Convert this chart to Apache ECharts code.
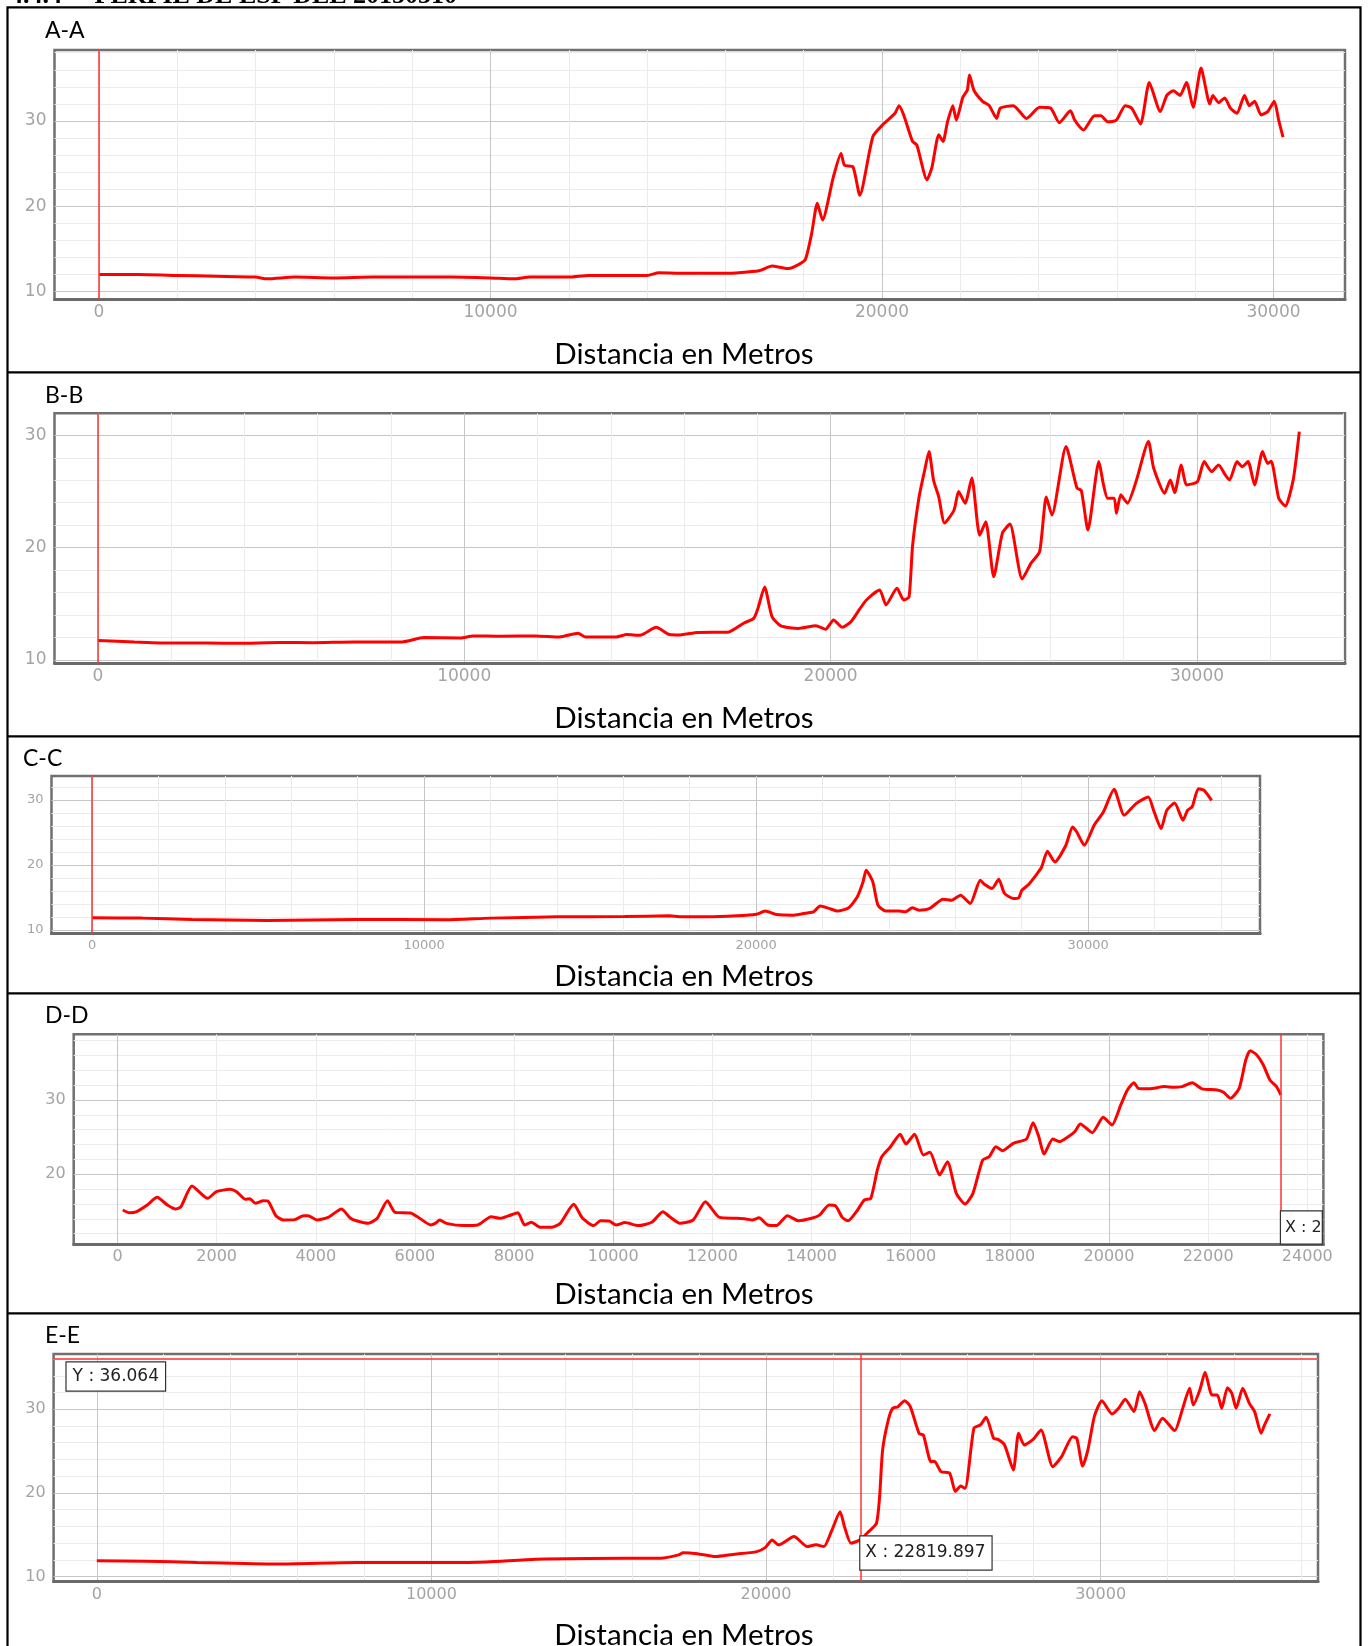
<!DOCTYPE html>
<html>
<head>
<meta charset="utf-8">
<title>Perfiles</title>
<script src="https://cdn.jsdelivr.net/npm/echarts@6/dist/echarts.min.js"></script>
<style>
html, body { margin: 0; padding: 0; background: #fff; }
#perfiles { width: 1368px; height: 1646px; }
</style>
</head>
<body>
<div id="perfiles"></div>
<script>
// perfiles: [distancia en metros, valor]
var perfilA = [[0,12.0],[1000,12.0],[2000,11.9],[3000,11.8],[4000,11.7],[4300,11.5],[5000,11.7],[6000,11.6],[7000,11.7],[8000,11.7],[9000,11.7],[10000,11.6],[10600,11.5],[11000,11.7],[12000,11.7],[12500,11.9],[14000,11.9],[14300,12.2],[14840,12.15],[15964,12.15],[16858,12.45],[17190,13.0],[17586,12.7],[17752,12.9],[18033,13.7],[18202,16.8],[18347,20.35],[18480,18.4],[18761,23.5],[18953,26.2],[19042,24.8],[19260,24.6],[19432,21.3],[19770,28.2],[20050,29.7],[20332,30.9],[20434,31.8],[20554,30.7],[20779,27.6],[20888,27.2],[21149,23.1],[21277,24.6],[21450,28.4],[21558,27.6],[21673,29.9],[21808,31.8],[21898,30.1],[22066,32.8],[22178,33.6],[22234,35.4],[22347,33.6],[22569,32.3],[22738,31.8],[22929,30.3],[23019,31.5],[23354,31.8],[23690,30.3],[24025,31.6],[24306,31.5],[24531,29.8],[24812,31.2],[24922,30.1],[25146,28.95],[25427,30.6],[25594,30.6],[25762,29.9],[25987,30.1],[26211,31.8],[26379,31.5],[26603,29.65],[26827,34.5],[27108,31.1],[27275,33.0],[27443,33.55],[27611,33.0],[27779,34.5],[27947,31.6],[28148,36.2],[28372,32.0],[28451,33.0],[28597,32.15],[28753,32.7],[28899,31.5],[29067,30.9],[29258,33.0],[29382,31.8],[29517,32.3],[29684,30.7],[29852,31.1],[30020,32.3],[30132,30.1],[30243,28.1]];

var perfilB = [[0,11.72],[1000,11.6],[2000,11.5],[3000,11.5],[3800,11.48],[5000,11.55],[5850,11.54],[7000,11.6],[8300,11.6],[8900,11.99],[9900,11.95],[10240,12.14],[11000,12.1],[11960,12.14],[12600,12.05],[13110,12.38],[13300,12.05],[14150,12.05],[14440,12.26],[14800,12.2],[15240,12.9],[15600,12.27],[15890,12.23],[16367,12.44],[17200,12.47],[17625,13.27],[17901,13.7],[18018,14.6],[18198,16.5],[18400,13.86],[18643,13.03],[19121,12.8],[19600,13.05],[19864,12.73],[20080,13.56],[20320,12.9],[20557,13.41],[20797,14.54],[20977,15.34],[21337,16.23],[21512,14.9],[21812,16.38],[21995,15.34],[22140,15.6],[22235,20.1],[22414,24.5],[22568,26.9],[22686,28.55],[22809,26.0],[22953,24.5],[23110,22.2],[23370,23.35],[23493,25.0],[23671,23.95],[23853,26.2],[24068,21.1],[24235,22.3],[24451,17.4],[24690,21.3],[24893,22.1],[25227,17.2],[25467,18.6],[25705,19.64],[25886,24.5],[26040,22.9],[26425,29.0],[26723,25.3],[26842,25.1],[27022,21.58],[27322,27.66],[27440,25.73],[27560,24.4],[27740,24.4],[27800,23.06],[27920,24.7],[28100,23.95],[28338,25.9],[28674,29.44],[28818,27.07],[29116,24.84],[29272,26.03],[29391,24.9],[29571,27.36],[29716,25.58],[30014,25.88],[30194,27.66],[30398,26.77],[30590,27.36],[30770,26.47],[30890,26.03],[31092,27.66],[31236,27.21],[31392,27.66],[31572,25.58],[31788,28.55],[31930,27.5],[32025,27.7],[32230,24.4],[32410,23.7],[32625,26.03],[32792,30.33]];

var perfilC = [[0,11.85],[1500,11.8],[3000,11.6],[5280,11.45],[7960,11.6],[10650,11.55],[12000,11.8],[14030,12.0],[16040,12.05],[17380,12.15],[17696,12.0],[18490,12.0],[19416,12.15],[20012,12.4],[20274,12.88],[20606,12.36],[21133,12.26],[21531,12.6],[21730,12.77],[21929,13.65],[22191,13.3],[22456,12.88],[22788,13.4],[23050,15.1],[23222,17.4],[23315,19.18],[23514,17.4],[23670,13.8],[23908,12.88],[24306,12.9],[24505,12.77],[24704,13.4],[24900,13.03],[25232,13.3],[25630,14.72],[25892,14.57],[26157,15.34],[26450,14.06],[26751,17.65],[26884,16.98],[27110,16.37],[27309,17.8],[27481,15.6],[27743,14.83],[27903,14.9],[28008,16.1],[28207,16.98],[28472,18.7],[28602,19.7],[28774,22.1],[28999,20.46],[29331,23.03],[29530,25.85],[29659,25.08],[29885,23.03],[30189,26.2],[30451,28.06],[30783,31.65],[31088,27.65],[31444,29.45],[31814,30.46],[31974,28.4],[32198,25.6],[32369,28.4],[32607,29.54],[32858,26.88],[32993,28.4],[33138,29.0],[33321,31.75],[33494,31.5],[33720,29.95]];

var perfilD = [[107,15.2],[242,14.83],[377,14.95],[601,15.87],[799,16.9],[1007,15.87],[1168,15.33],[1277,15.6],[1503,18.43],[1818,16.77],[1997,17.66],[2267,17.98],[2402,17.66],[2582,16.64],[2673,16.7],[2781,16.1],[2943,16.45],[3034,16.4],[3195,14.43],[3348,13.85],[3572,13.9],[3754,14.43],[3843,14.43],[4024,13.85],[4249,14.2],[4519,15.33],[4699,14.08],[4834,13.71],[5059,13.4],[5239,14.08],[5446,16.45],[5600,14.88],[5915,14.8],[6094,14.08],[6320,13.18],[6410,13.4],[6500,13.85],[6635,13.4],[6995,13.1],[7266,13.18],[7536,14.3],[7716,14.08],[7895,14.43],[8077,14.83],[8212,13.18],[8347,13.54],[8527,12.87],[8751,12.87],[8932,13.4],[9202,15.96],[9382,14.08],[9608,13.1],[9742,13.75],[9923,13.7],[10058,13.18],[10237,13.5],[10507,13.1],[10778,13.54],[11002,14.97],[11137,14.3],[11346,13.4],[11612,13.85],[11859,16.31],[12143,14.2],[12496,14.08],[12674,14.0],[12807,13.85],[12940,14.14],[13116,13.18],[13293,13.1],[13515,14.43],[13735,13.75],[14001,14.08],[14160,14.5],[14354,15.87],[14487,15.73],[14620,14.2],[14735,13.75],[14929,15.2],[15062,16.54],[15195,16.77],[15328,20.58],[15417,22.37],[15593,23.7],[15788,25.4],[15903,24.08],[16079,25.4],[16256,22.6],[16389,22.96],[16583,19.9],[16742,21.7],[16920,17.44],[17097,16.0],[17256,17.44],[17451,21.92],[17584,22.37],[17717,23.7],[17850,23.18],[18070,24.17],[18336,24.75],[18469,26.95],[18584,25.06],[18689,22.73],[18866,24.75],[19000,24.4],[19177,25.06],[19308,25.73],[19423,26.77],[19663,25.6],[19883,27.67],[20061,26.63],[20238,29.33],[20371,31.35],[20503,32.33],[20591,31.57],[20813,31.5],[21121,31.8],[21299,31.7],[21476,31.8],[21680,32.33],[21874,31.5],[22185,31.35],[22318,31.0],[22449,30.23],[22626,31.57],[22759,35.38],[22848,36.64],[22981,36.06],[23113,34.7],[23246,32.7],[23379,31.8],[23468,30.67]];

var perfilE = [[0,11.91],[1500,11.85],[3000,11.7],[5380,11.52],[7780,11.7],[10440,11.68],[11650,11.75],[13120,12.08],[15790,12.2],[16850,12.2],[17390,12.6],[17520,12.87],[17953,12.75],[18480,12.4],[19003,12.65],[19725,12.99],[19985,13.5],[20182,14.38],[20379,13.8],[20837,14.8],[21231,13.6],[21494,13.8],[21731,13.6],[21952,15.38],[22215,17.77],[22346,15.97],[22540,13.99],[22803,14.38],[23066,15.38],[23302,16.38],[23395,19.56],[23485,25.14],[23655,28.72],[23786,30.12],[23945,30.31],[24142,31.03],[24312,30.31],[24573,27.13],[24704,26.9],[24928,23.74],[25033,23.8],[25230,22.55],[25490,22.35],[25660,20.16],[25818,20.84],[25950,20.55],[26213,27.73],[26408,28.12],[26578,29.04],[26802,26.53],[26933,26.4],[27130,25.73],[27391,22.75],[27549,27.13],[27719,25.73],[27982,26.4],[28218,27.53],[28571,23.14],[28834,24.34],[29160,26.73],[29291,26.5],[29462,23.22],[29620,25.14],[29817,29.2],[30038,31.03],[30341,29.44],[30538,30.12],[30735,31.19],[30998,29.72],[31165,32.1],[31324,30.72],[31614,27.45],[31850,28.93],[32215,27.45],[32439,29.92],[32660,32.5],[32768,30.51],[32965,32.3],[33122,34.42],[33330,31.7],[33488,31.7],[33620,30.12],[33790,32.58],[33922,31.9],[34050,30.12],[34248,32.5],[34445,30.7],[34603,29.72],[34797,27.13],[34901,28.13],[35059,29.44]];

// etiquetas de los ejes
var etiquetasX = [0, 10000, 20000, 30000];
var etiquetasXD = [0, 2000, 4000, 6000, 8000, 10000, 12000, 14000, 16000, 18000, 20000, 22000, 24000];
var etiquetasY = [10, 20, 30];

// posicion del cursor en cada perfil
var cursorX = [0, 0, 0, 23470, 22819.897];
var cursorY = 36.064;

var nombres = ['A-A', 'B-B', 'C-C', 'D-D', 'E-E'];
var tituloEje = 'Distancia en Metros';

var paneles = [
    {datos: perfilA, rect: [54.5, 50, 1290.5, 249.3], x: [-1137, 31826], y: [9.1, 38.32], etq: etiquetasX, fs: 17, nx: 40, ny: 26, ty: 349},
    {datos: perfilB, rect: [54.5, 413.3, 1290.5, 250], x: [-1182, 34039], y: [9.7, 31.96], etq: etiquetasX, fs: 17, nx: 40, ny: 391, ty: 713.5},
    {datos: perfilC, rect: [51.5, 776, 1208.5, 157.7], x: [-1224, 35178], y: [9.4, 33.7], etq: etiquetasX, fs: 13, nx: 18, ny: 754.5, ty: 971.8},
    {datos: perfilD, rect: [73.7, 1034.3, 1249.7, 210], x: [-883, 24325], y: [10.58, 38.84], etq: etiquetasXD, fs: 16, nx: 40, ny: 1011.5, ty: 1289.5},
    {datos: perfilE, rect: [53.6, 1354, 1264.4, 227.7], x: [-1291, 36497], y: [9.4, 36.6], etq: etiquetasX, fs: 16, nx: 40, ny: 1331.5, ty: 1630}
];

function lineas(min, max, paso) {
    var v = [];
    for (var t = Math.ceil(min / paso) * paso; t <= max; t += paso) v.push(t);
    return v;
}
function colores(vals, mayor) {
    return vals.map(function (v) { return v % mayor === 0 ? '#c6c6c6' : '#ebebeb'; });
}
function sinComas(v) { return String(v); }

var cajaCursor = {
    show: true, color: '#222', fontFamily: 'DejaVu Sans', fontSize: 17,
    backgroundColor: '#fff', borderColor: '#333', borderWidth: 1.2
};

var grids = [], xAxes = [], yAxes = [], series = [], titulos = [];
paneles.forEach(function (p, i) {
    grids.push({
        left: p.rect[0], top: p.rect[1], width: p.rect[2], height: p.rect[3],
        show: true, backgroundColor: '#fff', borderColor: '#707070', borderWidth: 2.5
    });
    var xl = lineas(p.x[0], p.x[1], 2000);
    xAxes.push({
        type: 'value', gridIndex: i, min: p.x[0], max: p.x[1],
        axisLine: {show: true, onZero: false, lineStyle: {color: '#6a6a6a', width: 3}},
        axisTick: {show: false, customValues: xl},
        axisLabel: {customValues: p.etq, formatter: sinComas, color: '#a4a4a4', fontFamily: 'DejaVu Sans', fontSize: p.fs, margin: 5},
        splitLine: {show: true, lineStyle: {color: colores(xl, 10000), width: 1}}
    });
    var yl = lineas(p.y[0], p.y[1], 2);
    yAxes.push({
        type: 'value', gridIndex: i, min: p.y[0], max: p.y[1],
        axisLine: {show: false},
        axisTick: {show: false, customValues: yl},
        axisLabel: {customValues: etiquetasY, formatter: sinComas, color: '#a4a4a4', fontFamily: 'DejaVu Sans', fontSize: p.fs, margin: 8},
        splitLine: {show: true, lineStyle: {color: colores(yl, 10), width: 1}}
    });

    var marcas = [{xAxis: cursorX[i]}];
    if (i === 4) {
        marcas.push({
            yAxis: cursorY,
            label: Object.assign({position: 'insideStartBottom', distance: [13, 4], padding: [6, 6, 5, 6],
                formatter: 'Y : ' + cursorY}, cajaCursor)
        });
    }
    var s = {
        type: 'line', xAxisIndex: i, yAxisIndex: i, data: p.datos,
        showSymbol: false, smooth: 0.2, silent: true, clip: true,
        lineStyle: {color: '#ff0000', width: 3}, itemStyle: {color: '#ff0000'},
        markLine: {
            silent: true, symbol: ['none', 'none'], animation: false,
            lineStyle: {color: '#ff3434', width: 1.5, type: 'solid'},
            label: {show: false}, data: marcas
        }
    };
    if (i === 3) {
        s.markPoint = {silent: true, animation: false, data: [{
            coord: [cursorX[3], 12.84], symbol: 'rect', symbolSize: 0,
            label: Object.assign({}, cajaCursor, {position: 'right', distance: 0, fontSize: 16, padding: [8, 0, 8, 4], formatter: 'X : 2'})
        }]};
    }
    if (i === 4) {
        s.markPoint = {silent: true, animation: false, data: [{
            coord: [cursorX[4], 12.83], symbol: 'rect', symbolSize: 0,
            label: Object.assign({}, cajaCursor, {position: 'right', distance: 0, padding: [8, 6, 8, 5], formatter: 'X : ' + cursorX[4]})
        }]};
    }
    series.push(s);

    titulos.push({text: nombres[i], left: p.nx, top: p.ny - 12,
        textStyle: {fontFamily: 'Lato', fontSize: 23, fontWeight: 'normal', color: '#000', lineHeight: 23}});
    titulos.push({text: tituloEje, left: 'center', top: p.ty - 14,
        textStyle: {fontFamily: 'Lato', fontSize: 29.5, fontWeight: 'normal', color: '#000', lineHeight: 28}});
});

// marco de la tabla
var filas = [372.3, 736.3, 993.3, 1313.3];
var tabla = [{type: 'rect', shape: {x: 7.5, y: 7.3, width: 1353, height: 1660}, style: {fill: null, stroke: '#000', lineWidth: 2.2}, silent: true}];
filas.forEach(function (y) {
    tabla.push({type: 'line', shape: {x1: 7.5, y1: y, x2: 1360.5, y2: y}, style: {stroke: '#000', lineWidth: 2.2}, silent: true});
});
tabla.push({type: 'text', x: 10, y: 9.5, silent: true,
    style: {text: '4.4.4     PERFIL DE ESP DEL 20150310', font: 'bold 26px "Liberation Serif"', fill: '#000', verticalAlign: 'bottom'}});

var chart = echarts.init(document.getElementById('perfiles'));
chart.setOption({
    animation: false,
    backgroundColor: '#fff',
    title: titulos,
    grid: grids,
    xAxis: xAxes,
    yAxis: yAxes,
    series: series,
    graphic: tabla
});
</script>
</body>
</html>
